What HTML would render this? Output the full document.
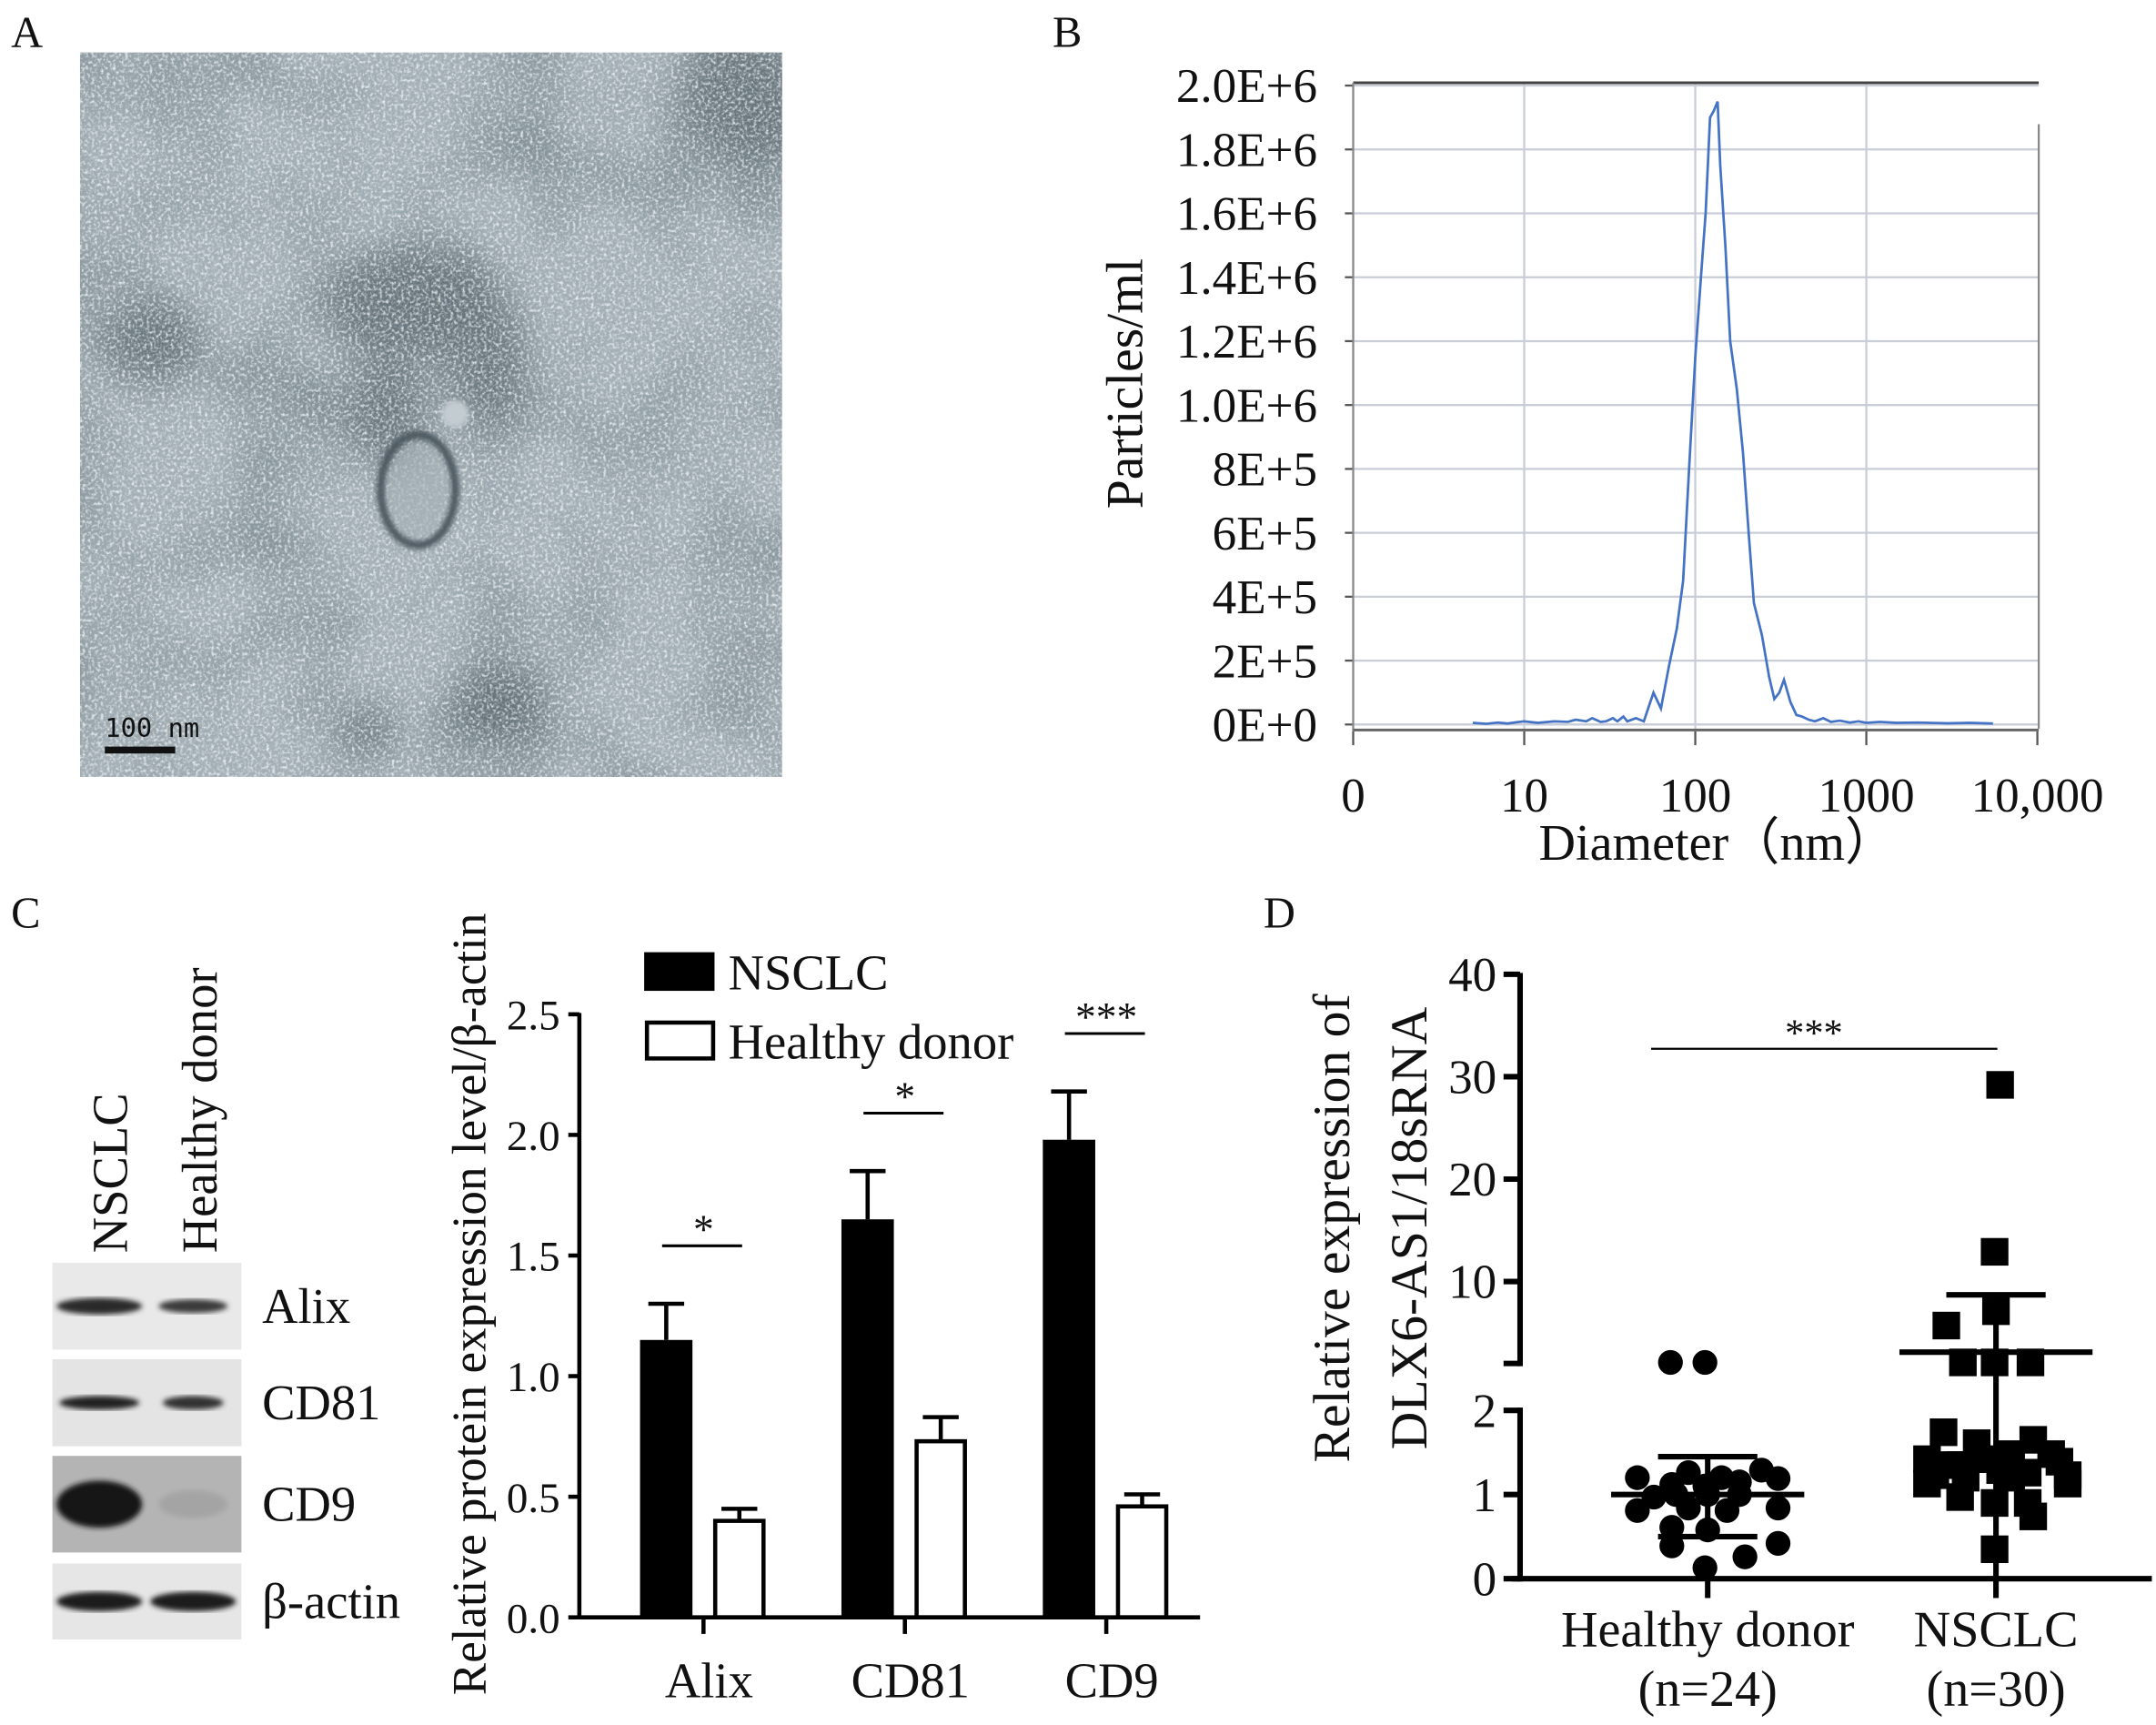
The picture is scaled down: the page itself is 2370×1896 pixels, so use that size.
<!DOCTYPE html>
<html><head><meta charset="utf-8"><style>
html,body{margin:0;padding:0;background:#fff}
svg{display:block}
text{font-family:"Liberation Serif",serif;fill:#111}
</style></head><body>
<svg id="fig" width="2370" height="1896" viewBox="0 0 1563 1250" preserveAspectRatio="none" xmlns="http://www.w3.org/2000/svg">
<defs>
<filter id="noise" x="0" y="0" width="100%" height="100%">
<feTurbulence type="fractalNoise" baseFrequency="0.45" numOctaves="2" seed="4"/>
<feColorMatrix type="matrix" values="0 0 0 0 0.92  0 0 0 0 0.95  0 0 0 0 0.97  3 0 0 0 -1.35" />
</filter>
<filter id="noiseDark" x="0" y="0" width="100%" height="100%">
<feTurbulence type="fractalNoise" baseFrequency="0.5" numOctaves="2" seed="17"/>
<feColorMatrix type="matrix" values="0 0 0 0 0.3  0 0 0 0 0.36  0 0 0 0 0.4  3 0 0 0 -1.4" />
</filter>
<filter id="blotch" x="0" y="0" width="100%" height="100%">
<feTurbulence type="fractalNoise" baseFrequency="0.012" numOctaves="2" seed="9"/>
<feColorMatrix type="matrix" values="0 0 0 0 0.2  0 0 0 0 0.25  0 0 0 0 0.28  0 0 0 -2.2 1.3"/>
</filter>
<filter id="blur2"><feGaussianBlur stdDeviation="2"/></filter>
<filter id="blur12"><feGaussianBlur stdDeviation="14"/></filter>
<clipPath id="clipA"><rect x="58" y="38" width="509" height="525"/></clipPath>
</defs>

<text x="8" y="34" font-size="32">A</text>
<text x="763" y="34" font-size="32">B</text>
<text x="8" y="672" font-size="32">C</text>
<text x="916" y="672" font-size="32">D</text>

<g id="tem" clip-path="url(#clipA)">
<rect x="58" y="38" width="509" height="525" fill="#a6b2b8"/>
<rect x="58" y="38" width="509" height="525" filter="url(#blotch)" opacity="0.8"/>
<g filter="url(#blur12)" fill="#56636b" opacity="0.75">
<ellipse cx="300" cy="220" rx="70" ry="40"/>
<ellipse cx="355" cy="270" rx="30" ry="45"/>
<ellipse cx="280" cy="300" rx="30" ry="40"/>
<ellipse cx="540" cy="70" rx="50" ry="50"/>
<ellipse cx="360" cy="510" rx="35" ry="30"/>
<ellipse cx="110" cy="250" rx="40" ry="30"/>
<ellipse cx="265" cy="530" rx="25" ry="20"/>
</g>
<rect x="58" y="38" width="509" height="525" filter="url(#noise)" opacity="0.8"/>
<rect x="58" y="38" width="509" height="525" filter="url(#noiseDark)" opacity="0.5"/>
<ellipse cx="303" cy="355" rx="27" ry="40" fill="none" stroke="#4b575e" stroke-width="6" filter="url(#blur2)"/>
<ellipse cx="303" cy="355" rx="22" ry="34" fill="#a5b1b7" opacity="0.6" filter="url(#blur2)"/>
<circle cx="330" cy="300" r="10" fill="#c3ccd0" filter="url(#blur2)"/>
</g>
<rect x="76" y="541" width="51" height="5" fill="#111"/>
<text x="76" y="534" font-size="19" style="font-family:'DejaVu Sans Mono',monospace" fill="#222">100 nm</text>

<g id="panelB"></g>
<g id="panelC"></g>
<g id="panelCbar"></g>
<g id="panelD"></g>
</svg>
<script>
// ---------- Panel B data ----------
const diamNm = [5,6,7,8,9,10,12,15,18,20,23,25,28,30,33,35,38,40,45,50,57,63,70,78,85,92,100,108,115,122,128,135,140,150,160,175,190,205,220,245,270,290,310,330,360,390,420,460,500,560,620,700,800,900,1000,1200,1500,2000,3000,4000,5500];
const particles = [5e3,2e3,6e3,3e3,7e3,1e4,5e3,1e4,8e3,1.5e4,1e4,2e4,8e3,1e4,2e4,1e4,2.5e4,1e4,2e4,1e4,1e5,5e4,1.8e5,3e5,4.5e5,8e5,1.15e6,1.4e6,1.6e6,1.9e6,1.92e6,1.95e6,1.75e6,1.5e6,1.2e6,1.05e6,8.5e5,6e5,3.8e5,2.8e5,1.5e5,8e4,1e5,1.4e5,7e4,3e4,2.5e4,1.5e4,1e4,2e4,8e3,1.2e4,6e3,1e4,5e3,8e3,5e3,6e3,4e3,5e3,3e3];
const bYTicks = ["0E+0","2E+5","4E+5","6E+5","8E+5","1.0E+6","1.2E+6","1.4E+6","1.6E+6","1.8E+6","2.0E+6"];
const bXTickVals = [1,10,100,1000,10000];
const bXTickLabels = ["0","10","100","1000","10,000"];

// ---------- Panel C data ----------
const cCategories = ["Alix","CD81","CD9"];
const cNsclc = [1.15,1.65,1.98];
const cNsclcErr = [0.15,0.20,0.20];
const cHealthy = [0.40,0.73,0.46];
const cHealthyErr = [0.05,0.10,0.05];
const cSig = ["*","*","***"];
const cYTicks = [0,0.5,1.0,1.5,2.0,2.5];
const cYTickLabels = ["0.0","0.5","1.0","1.5","2.0","2.5"];

// ---------- Panel D data ----------
const dGroups = ["Healthy donor","NSCLC"];
const dGroupN = ["(n=24)","(n=30)"];
const hdValues = [1.2,1.12,1.26,1.2,1.29,1.19,0.97,1.0,1.0,1.0,0.84,0.81,0.84,0.81,0.61,0.58,0.39,0.42,0.13,0.26,1.1,1.15,2.1,2.1];
const hdJitter = [-51,-26,-14,10,39,51,-39,-23,0,23,51,-51,-14,14,-26,0,-26,51,-2,27,-2,23,-27,-2];
const nsValues = [1.74,1.61,1.65,1.42,1.35,1.48,1.39,1.23,1.2,1.29,1.26,1.23,1.13,0.97,0.9,0.9,0.74,1.13,0.35,1.35,1.2,1.48,1.42,29.2,12.9,5.7,7.1,2.1,2.1,2.1];
const nsJitter = [-38,-14,27,-50,-26,11,46,-44,-22,3,23,52,-50,-26,-1,23,27,52,-1,-34,11,40,-8,3,-1,-36,0,-24,-1,25];
const dMeans = [1.0,3.1];
const dSdLow = [0.5,0.0];
const dSdHigh = [1.45,8.7];
const dUpperTicks = [10,20,30,40];
const dLowerTicks = [0,1,2];

const NS = "http://www.w3.org/2000/svg";
function mk(parent, tag, attrs, txt){
  const e = document.createElementNS(NS, tag);
  for (const k in attrs) e.setAttribute(k, attrs[k]);
  if (txt !== undefined) e.textContent = txt;
  parent.appendChild(e);
  return e;
}

// ================= Panel B =================
(function(){
  const g = document.getElementById('panelB');
  const L=981,R=1478,T=60,B0=525;
  const xB = d => L + 124*Math.log10(d);
  const yB = v => B0 - (v/2e5)*46.3;
  for (let i=0;i<bYTicks.length;i++){
    const y = yB(i*2e5);
    const gl = mk(g,'line',{x1:L,x2:R,y1:y,y2:y,stroke:'#c9cdd8','stroke-width':1.5});
    
    
    const tk = mk(g,'line',{x1:L-6,x2:L,y1:y,y2:y,stroke:'#555','stroke-width':1.5});
    
    
    const t = mk(g,'text',{x:955,y:y+12,'text-anchor':'end','font-size':35},bYTicks[i]);
    
    
  }
  for (let i=0;i<bXTickVals.length;i++){
    const x = xB(bXTickVals[i]);
    if (i>0 && i<bXTickVals.length-1){
      const gl = mk(g,'line',{x1:x,x2:x,y1:T,y2:528,stroke:'#c9cdd8','stroke-width':1.5});
      
      
    }
    const tk = mk(g,'line',{x1:x,x2:x,y1:530,y2:540,stroke:'#555','stroke-width':1.5});
    
    
    const t = mk(g,'text',{x:x,y:588,'text-anchor':'middle','font-size':35},bXTickLabels[i]);
    
    
  }
  const top = mk(g,'line',{x1:L,x2:R,y1:T,y2:T,stroke:'#444','stroke-width':2});
  
  
  const la = mk(g,'line',{x1:L,x2:L,y1:T,y2:530,stroke:'#888','stroke-width':1.5});
  
  
  const ra = mk(g,'line',{x1:R,x2:R,y1:T+30,y2:528,stroke:'#888','stroke-width':1.5});
  
  
  const xa = mk(g,'line',{x1:L,x2:R,y1:529,y2:529,stroke:'#666','stroke-width':2});
  
  
  let d = '';
  for (let i=0;i<diamNm.length;i++) d += (i?'L':'M') + xB(diamNm[i]).toFixed(1)+','+yB(particles[i]).toFixed(1);
  const p = mk(g,'path',{d:d,fill:'none',stroke:'#4472c4','stroke-width':1.8});
  
  
  const yt = mk(g,'text',{x:0,y:0,'font-size':38,'text-anchor':'middle',transform:'translate(828,278) rotate(-90)'},'Particles/ml');
  
  
  const xt = mk(g,'text',{x:1245,y:623,'font-size':37,'text-anchor':'middle'},'Diameter（nm）');
  
  
})();

// ================= Panel C blot =================
(function(){
  const g = document.getElementById('panelC');
  const strips = [
    {name:'Alix',y:915,h:63,bg:'#e9e9e9',b1:['#2a2a2a',62,6],b2:['#3a3a3a',50,5]},
    {name:'CD81',y:985,h:63,bg:'#e4e4e4',b1:['#222',58,5],b2:['#333',44,5]},
    {name:'CD9',y:1055,h:70,bg:'#b4b4b4',b1:['#161616',62,17],b2:['#a4a4a4',50,10]},
    {name:'β-actin',y:1133,h:55,bg:'#e6e6e6',b1:['#1a1a1a',62,7],b2:['#1a1a1a',62,7]}
  ];
  strips.forEach(s=>{
    const r = mk(g,'rect',{x:38,y:s.y,width:137,height:s.h,fill:s.bg});
    
    
    const cy = s.y + s.h/2;
    mk(g,'ellipse',{cx:72,cy:cy,rx:s.b1[1]/2,ry:s.b1[2],fill:s.b1[0],filter:'url(#blur2)'});
    mk(g,'ellipse',{cx:140,cy:cy,rx:s.b2[1]/2,ry:s.b2[2],fill:s.b2[0],filter:'url(#blur2)'});
    const t = mk(g,'text',{x:190,y:cy+12,'font-size':36},s.name);
    
    
  });
  const t1 = mk(g,'text',{x:0,y:0,'font-size':36,transform:'translate(92,908) rotate(-90)'},'NSCLC');
  
  
  const t2 = mk(g,'text',{x:0,y:0,'font-size':36,transform:'translate(157,908) rotate(-90)'},'Healthy donor');
  
  
})();

// ================= Panel C bars =================
(function(){
  const g = document.getElementById('panelCbar');
  const AX=420, Y0=1172;
  const yC = v => Y0 - v*174.8;
  const xC = i => 510 + 146*i;
  for (let i=0;i<cYTicks.length;i++){
    const y=yC(cYTicks[i]);
    const tk = mk(g,'line',{x1:AX-8,x2:AX,y1:y,y2:y,stroke:'#000','stroke-width':3});
    
    
    const t = mk(g,'text',{x:AX-14,y:y+11,'text-anchor':'end','font-size':31},cYTickLabels[i]);
    
    
  }
  const ya = mk(g,'line',{x1:AX,x2:AX,y1:yC(2.5)-1,y2:Y0+1,stroke:'#000','stroke-width':3});
  
  
  for (let i=0;i<cCategories.length;i++){
    const c = xC(i);
    const eb1 = mk(g,'path',{d:`M${c-27},${yC(cNsclc[i])}V${yC(cNsclc[i]+cNsclcErr[i])}M${c-40},${yC(cNsclc[i]+cNsclcErr[i])}H${c-14}`,stroke:'#000','stroke-width':3,fill:'none'});
    
    
    const b1 = mk(g,'rect',{x:c-46,y:yC(cNsclc[i]),width:38,height:Y0-yC(cNsclc[i]),fill:'#000'});
    
    
    const eb2 = mk(g,'path',{d:`M${c+26},${yC(cHealthy[i])}V${yC(cHealthy[i]+cHealthyErr[i])}M${c+13},${yC(cHealthy[i]+cHealthyErr[i])}H${c+39}`,stroke:'#000','stroke-width':3,fill:'none'});
    
    
    const b2 = mk(g,'rect',{x:c+8.5,y:yC(cHealthy[i]),width:35,height:Y0-yC(cHealthy[i]),fill:'#fff',stroke:'#000','stroke-width':3});
    
    
    const tk = mk(g,'line',{x1:c,x2:c,y1:Y0,y2:Y0+12,stroke:'#000','stroke-width':3});
    
    
    const lb = mk(g,'text',{x:c+4,y:1230,'text-anchor':'middle','font-size':36},cCategories[i]);
    
    
    const sy = yC(cNsclc[i]+cNsclcErr[i]) - 42;
    const sl = mk(g,'line',{x1:c-30,x2:c+28,y1:sy,y2:sy,stroke:'#000','stroke-width':2});
    
    
    const st = mk(g,'text',{x:c,y:sy-2,'text-anchor':'middle','font-size':30},cSig[i]);
    
    
  }
  const xa = mk(g,'line',{x1:AX,x2:870,y1:Y0,y2:Y0,stroke:'#000','stroke-width':3});
  
  
  const l1 = mk(g,'rect',{x:467,y:690,width:51,height:28,fill:'#000'});
  
  
  const lt1 = mk(g,'text',{x:528,y:717,'font-size':36},'NSCLC');
  
  
  const l2 = mk(g,'rect',{x:469,y:741,width:48,height:26,fill:'#fff',stroke:'#000','stroke-width':3});
  
  
  const lt2 = mk(g,'text',{x:528,y:767,'font-size':36},'Healthy donor');
  
  
  const yt = mk(g,'text',{x:0,y:0,'font-size':35,'text-anchor':'middle',transform:'translate(352,945) rotate(-90)'},'Relative protein expression level/β-actin');
  
  
})();

// ================= Panel D =================
(function(){
  const g = document.getElementById('panelD');
  const AX=1102, Y0=1144;
  const yD = v => v <= 2 ? Y0 - v*61 : 988 - (v-2)*(282/38);
  const xD = i => 1238 + 209*i;
  const a1 = mk(g,'line',{x1:AX,x2:AX,y1:705,y2:990,stroke:'#000','stroke-width':4});
  
  
  const a2 = mk(g,'line',{x1:AX,x2:AX,y1:1020,y2:Y0+2,stroke:'#000','stroke-width':4});
  
  
  const bk1 = mk(g,'line',{x1:AX-12,x2:AX,y1:988,y2:988,stroke:'#000','stroke-width':4});
  
  
  dUpperTicks.concat(dLowerTicks).forEach(v=>{
    const y=yD(v);
    const tk = mk(g,'line',{x1:AX-12,x2:AX,y1:y,y2:y,stroke:'#000','stroke-width':4});
    
    
    const t = mk(g,'text',{x:AX-17,y:y+12,'text-anchor':'end','font-size':35},String(v));
    
    
  });
  const xa = mk(g,'line',{x1:AX-6,x2:1560,y1:Y0,y2:Y0,stroke:'#000','stroke-width':4});
  
  
  for (let i=0;i<dGroups.length;i++){
    const c=xD(i);
    const tk = mk(g,'line',{x1:c,x2:c,y1:Y0,y2:Y0+14,stroke:'#000','stroke-width':4});
    
    
    const t1 = mk(g,'text',{x:c,y:1193,'text-anchor':'middle','font-size':37},dGroups[i]);
    
    
    const t2 = mk(g,'text',{x:c,y:1236,'text-anchor':'middle','font-size':37},dGroupN[i]);
    
    
  }
  hdValues.forEach((v,k)=>{
    const c = mk(g,'circle',{cx:xD(0)+hdJitter[k],cy:yD(v),r:9,fill:'#000'});
    
    
  });
  nsValues.forEach((v,k)=>{
    const s = mk(g,'rect',{x:xD(1)+nsJitter[k]-10,y:yD(v)-10,width:20,height:20,fill:'#000'});
    
    
  });
  for (let i=0;i<dGroups.length;i++){
    const c=xD(i);
    const vl = mk(g,'line',{x1:c,x2:c,y1:yD(dSdLow[i]),y2:yD(dSdHigh[i]),stroke:'#000','stroke-width':4});
    
    
    const m = mk(g,'line',{x1:c-70,x2:c+70,y1:yD(dMeans[i]),y2:yD(dMeans[i]),stroke:'#000','stroke-width':4});
    
    
    const h = mk(g,'line',{x1:c-36,x2:c+36,y1:yD(dSdHigh[i]),y2:yD(dSdHigh[i]),stroke:'#000','stroke-width':4});
    
    
    if (dSdLow[i] > 0){
      const l = mk(g,'line',{x1:c-36,x2:c+36,y1:yD(dSdLow[i]),y2:yD(dSdLow[i]),stroke:'#000','stroke-width':4});
      
      
    }
  }
  const sl = mk(g,'line',{x1:1197,x2:1448,y1:760,y2:760,stroke:'#000','stroke-width':1.5});
  
  
  const st = mk(g,'text',{x:1315,y:758,'text-anchor':'middle','font-size':28},'***');
  
  
  const y1 = mk(g,'text',{x:0,y:0,'font-size':38,'text-anchor':'middle',transform:'translate(978,890) rotate(-90)'},'Relative expression of');
  
  
  const y2 = mk(g,'text',{x:0,y:0,'font-size':38,'text-anchor':'middle',transform:'translate(1034,890) rotate(-90)'},'DLX6-AS1/18sRNA');
  
  
})();
</script>
</body></html>
